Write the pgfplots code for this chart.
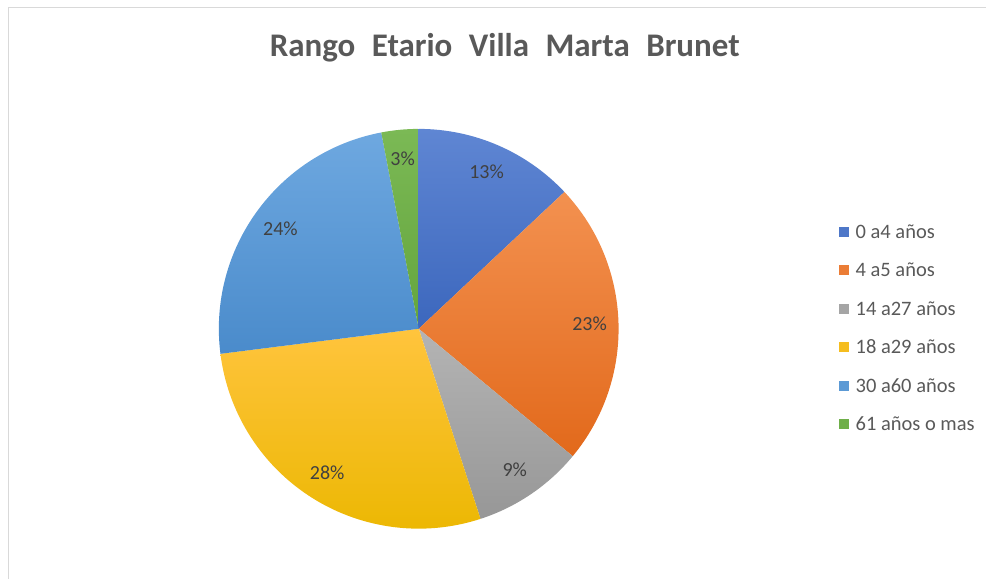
\documentclass[border=0pt]{standalone}
\usepackage{pgfplots}
\pgfplotsset{compat=1.18}
\usepackage{pgfplotstable}
\usepackage{fontspec}
\setmainfont{Carlito}

\definecolor{titlegray}{HTML}{595959}
\definecolor{labgray}{HTML}{404040}
\definecolor{legtext}{HTML}{595959}
\definecolor{bordergray}{HTML}{D9D9D9}
\definecolor{blueT}{HTML}{5F86D3}
\definecolor{blueB}{HTML}{3C67BD}
\definecolor{orangeT}{HTML}{F39150}
\definecolor{orangeB}{HTML}{E2691B}
\definecolor{grayT}{HTML}{B4B4B4}
\definecolor{grayB}{HTML}{979797}
\definecolor{goldT}{HTML}{FFC43D}
\definecolor{goldB}{HTML}{EBB700}
\definecolor{lblueT}{HTML}{6EA8E0}
\definecolor{lblueB}{HTML}{4A8BCB}
\definecolor{greenT}{HTML}{7BB955}
\definecolor{greenB}{HTML}{64A53D}

\pgfplotstableread[col sep=comma]{
label,value,ctop,cbot
0 a4 años,13,blueT,blueB
4 a5 años,23,orangeT,orangeB
14 a27 años,9,grayT,grayB
18 a29 años,28,goldT,goldB
30 a60 años,24,lblueT,lblueB
61 años o mas,3,greenT,greenB
}\pietable

\begin{document}
\begin{tikzpicture}
\begin{axis}[
  x=1bp, y=1bp, xmin=0, xmax=987, ymin=0, ymax=579,
  scale only axis, hide axis, clip=false,
]
\pgfplotsextra{
  \path (axis cs:0,0) rectangle (axis cs:987,579);
  \draw[bordergray, line width=1.3bp] (axis cs:8.7,0) -- (axis cs:8.7,571.7) -- (axis cs:987,571.7);
  \node[font=\bfseries\fontsize{33bp}{38bp}\selectfont, text=titlegray, anchor=base, inner sep=0pt]
    at (axis cs:505,522.5) {\spaceskip=16.5bp\relax Rango Etario Villa Marta Brunet};
  \gdef\curang{90}
  \foreach \i in {0,...,5}{
    \pgfplotstablegetelem{\i}{value}\of\pietable \let\val\pgfplotsretval
    \pgfplotstablegetelem{\i}{ctop}\of\pietable \let\ct\pgfplotsretval
    \pgfplotstablegetelem{\i}{cbot}\of\pietable \let\cb\pgfplotsretval
    \pgfplotstablegetelem{\i}{label}\of\pietable \let\lab\pgfplotsretval
    \pgfmathsetmacro\endang{\curang-3.6*\val}
    \pgfmathsetmacro\midang{(\curang+\endang)/2}
    \shade[top color=\ct, bottom color=\cb]
      (axis cs:419,250) -- ++(\curang:200bp) arc[start angle=\curang, end angle=\endang, radius=200bp] -- cycle;
    \path (axis cs:419,250) -- ++(\midang:171bp)
      node[text=labgray, font=\fontsize{20bp}{24bp}\selectfont, inner sep=0pt] {\val\%};
    \fill[\ct!50!\cb] (axis cs:839.5,{579-232-38.5*\i-5}) rectangle ++(10bp,10bp);
    \node[text=legtext, font=\fontsize{20.5bp}{24bp}\selectfont, anchor=base west, inner sep=0pt]
      at (axis cs:856,{579-232-38.5*\i-6.5}) {\lab};
    \xdef\curang{\endang}
  }
}
\end{axis}
\end{tikzpicture}
\end{document}
